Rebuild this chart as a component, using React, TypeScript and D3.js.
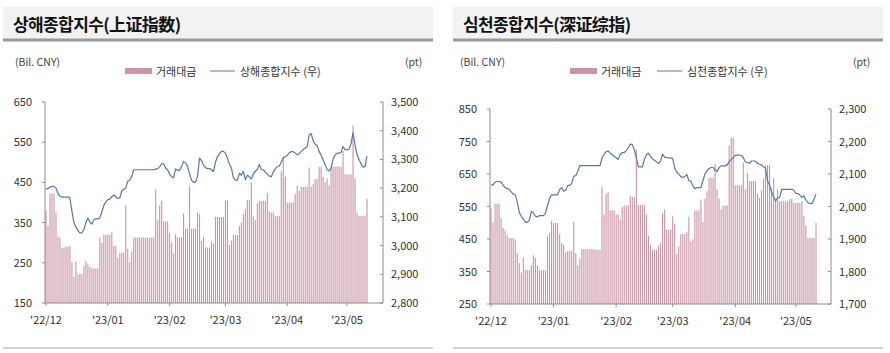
import React from 'react';
import * as d3 from 'd3';

// calendar days from 2022-12-01, weekends/holidays carried forward
const startDate = new Date(2022, 11, 1);

const shBars = [
  380, 343, 423, 423, 423, 375, 316, 312, 287, 288,
  290, 290, 292, 252, 215, 254, 222, 222, 222, 242,
  254, 248, 240, 237, 236, 236, 236, 312, 300, 320,
  320, 320, 320, 326, 292, 292, 262, 275, 275, 275,
  393, 285, 252, 278, 313, 313, 313, 313, 313, 313,
  313, 313, 313, 313, 313, 433, 356, 392, 404, 353,
  353, 353, 325, 301, 274, 321, 313, 313, 313, 373,
  335, 335, 440, 335, 335, 335, 375, 371, 304, 315,
  288, 288, 288, 303, 298, 364, 364, 364, 364, 364,
  405, 405, 294, 305, 319, 319, 319, 342, 351, 371,
  385, 406, 406, 450, 365, 356, 398, 404, 404, 404,
  404, 424, 377, 375, 375, 366, 366, 366, 478, 514,
  464, 400, 400, 400, 400, 421, 441, 429, 439, 439,
  439, 439, 487, 439, 446, 458, 458, 489, 489, 464,
  450, 460, 443, 489, 489, 489, 489, 489, 489, 528,
  470, 470, 470, 470, 591, 460, 375, 367, 367, 367,
  367, 409,
];

const shIndex = [
  3198, 3198, 3204, 3206, 3206, 3200, 3182, 3172, 3169, 3169,
  3169, 3169, 3166, 3120, 3080, 3065, 3052, 3044, 3044, 3055,
  3080, 3096, 3082, 3075, 3090, 3093, 3093, 3096, 3117, 3140,
  3152, 3160, 3162, 3170, 3176, 3170, 3164, 3166, 3190, 3196,
  3200, 3224, 3228, 3240, 3264, 3264, 3264, 3264, 3264, 3264,
  3264, 3264, 3264, 3264, 3264, 3266, 3268, 3274, 3285, 3285,
  3270, 3264, 3248, 3240, 3236, 3267, 3262, 3262, 3275, 3293,
  3288, 3276, 3250, 3228, 3220, 3220, 3240, 3305, 3296, 3280,
  3272, 3268, 3268, 3265, 3258, 3290, 3310, 3320, 3328, 3328,
  3322, 3305, 3283, 3270, 3236, 3228, 3228, 3252, 3245, 3258,
  3230, 3245, 3240, 3232, 3250, 3258, 3266, 3283, 3265, 3264,
  3256, 3249, 3242, 3240, 3256, 3268, 3275, 3277, 3290, 3305,
  3310, 3314, 3323, 3327, 3327, 3322, 3316, 3320, 3328, 3334,
  3340, 3345, 3385, 3390, 3365, 3353, 3348, 3328, 3315, 3298,
  3282, 3265, 3260, 3270, 3302, 3315, 3322, 3322, 3325, 3345,
  3334, 3334, 3336, 3355, 3393, 3350, 3318, 3300, 3285, 3274,
  3274, 3312,
];

const szBars = [
  545, 501, 559, 559, 559, 514, 484, 476, 461, 453,
  453, 453, 448, 407, 376, 347, 392, 355, 355, 355,
  369, 400, 392, 369, 354, 354, 354, 354, 458, 468,
  506, 499, 499, 499, 465, 438, 432, 409, 414, 414,
  414, 502, 407, 369, 388, 419, 419, 419, 419, 419,
  419, 419, 417, 417, 417, 610, 525, 589, 594, 538,
  538, 538, 525, 525, 510, 548, 553, 553, 553, 582,
  579, 579, 725, 555, 555, 555, 555, 525, 460, 432,
  417, 417, 417, 430, 438, 530, 541, 479, 479, 479,
  520, 497, 404, 427, 465, 465, 465, 471, 518, 443,
  450, 538, 538, 538, 572, 502, 574, 597, 639, 639,
  639, 682, 603, 574, 541, 553, 553, 553, 737, 762,
  762, 615, 615, 615, 615, 685, 603, 652, 628, 628,
  628, 628, 590, 577, 600, 636, 678, 678, 678, 605,
  636, 572, 605, 566, 566, 566, 566, 566, 572, 574,
  561, 561, 561, 561, 566, 522, 491, 453, 453, 453,
  453, 500,
];

const szIndex = [
  2067, 2066, 2075, 2077, 2077, 2075, 2066, 2058, 2055, 2053,
  2045, 2038, 2036, 2015, 1982, 1970, 1962, 1951, 1951, 1958,
  1985, 1980, 1970, 1968, 1972, 1972, 1972, 1980, 2003, 2025,
  2036, 2036, 2036, 2036, 2052, 2058, 2047, 2050, 2065, 2065,
  2072, 2093, 2095, 2108, 2126, 2126, 2126, 2126, 2126, 2126,
  2126, 2126, 2126, 2126, 2126, 2150, 2160, 2168, 2171, 2164,
  2160, 2154, 2150, 2145, 2160, 2166, 2166, 2172, 2180, 2192,
  2191, 2175, 2150, 2122, 2122, 2122, 2145, 2160, 2164, 2155,
  2147, 2142, 2138, 2132, 2140, 2161, 2152, 2150, 2150, 2149,
  2148, 2118, 2106, 2100, 2092, 2089, 2092, 2099, 2080, 2078,
  2063, 2055, 2058, 2058, 2058, 2080, 2100, 2110, 2116, 2120,
  2120, 2112, 2108, 2120, 2125, 2125, 2125, 2128, 2138, 2145,
  2150, 2158, 2158, 2158, 2157, 2150, 2137, 2136, 2133, 2140,
  2140, 2140, 2133, 2130, 2128, 2122, 2118, 2078, 2066, 2045,
  2030, 2017, 2027, 2027, 2053, 2053, 2053, 2053, 2053, 2053,
  2050, 2040, 2040, 2035, 2028, 2033, 2020, 2012, 2009, 2009,
  2022, 2038,
];

const shLeftTicks = [150, 250, 350, 450, 550, 650];
const shRightTicks = [2800, 2900, 3000, 3100, 3200, 3300, 3400, 3500];
const szLeftTicks = [250, 350, 450, 550, 650, 750, 850];
const szRightTicks = [1700, 1800, 1900, 2000, 2100, 2200, 2300];

const barLegend = '거래대금';
const unitLeft = '(Bil. CNY)';
const unitRight = '(pt)';

const FONT = "'Noto Sans CJK KR', 'Noto Sans', sans-serif";
const BAR = '#cc94a5';
const LINE = '#5a76a6';
const AXIS = '#8c8c8c';
const TEXT = '#333';

const monthTicks = d3.timeMonth.range(startDate, new Date(2023, 4, 12));
const fmtMonth = d3.timeFormat("'%y/%m");

const Panel = ({ ox, title, lineLabel, bars, index, leftTicks, rightTicks, plot, legend }) => {
  const n = bars.length;
  const x = d3.scaleLinear().domain([0, n - 1]).range([plot.x0 + 1, plot.barEnd]);
  const yL = d3.scaleLinear().domain(d3.extent(leftTicks)).range([plot.yBot, plot.yTop]);
  const yR = d3.scaleLinear().domain(d3.extent(rightTicks)).range([plot.yBot, plot.yTop]);
  const line = d3.line<number>().x((_, i) => x(i)).y(v => yR(v));
  const fmt = d3.format(',');

  return (
    <g>
      {/* title bar */}
      <rect x={ox} y={7} width={430} height={32} fill="#f2f2f2" />
      <line x1={ox} x2={ox + 430} y1={40} y2={40} stroke="#999" strokeWidth={3} />
      <text x={ox + 10} y={31} fontSize={17} fontWeight={700} letterSpacing={-0.6} fill="#111" fontFamily={FONT}>{title}</text>

      {/* units + legend */}
      <text x={plot.x0 - 30} y={66} fontSize={10.5} fill="#444" fontFamily={FONT}>{unitLeft}</text>
      <text x={plot.x1 + 22} y={66} fontSize={10.5} fill="#444" fontFamily={FONT}>{unitRight}</text>
      <rect x={legend.sw} y={68} width={27} height={6} fill={BAR} />
      <text x={legend.sw + 31} y={75.5} fontSize={11} fill={TEXT} fontFamily={FONT}>{barLegend}</text>
      <line x1={legend.ln} x2={legend.ln + 25} y1={71} y2={71} stroke={LINE} strokeWidth={1} />
      <text x={legend.ln + 30} y={75.5} fontSize={11} fill={TEXT} fontFamily={FONT}>{lineLabel}</text>

      {/* bars */}
      {bars.map((v, i) => (
        <rect key={i} x={x(i) - 0.55} y={yL(v)} width={1.1} height={plot.yBot - yL(v)} fill={BAR} />
      ))}

      <path d={line(index) || ''} fill="none" stroke={LINE} strokeWidth={1.2} strokeLinejoin="round" />

      {/* axes */}
      <line x1={plot.x0} x2={plot.x0} y1={plot.yTop} y2={plot.yBot} stroke={AXIS} />
      <line x1={plot.x1} x2={plot.x1} y1={plot.yTop} y2={plot.yBot} stroke={AXIS} />
      <line x1={plot.x0} x2={plot.x1} y1={plot.yBot} y2={plot.yBot} stroke={AXIS} />
      {leftTicks.map(t => (
        <g key={'l' + t}>
          <line x1={plot.x0 - 3} x2={plot.x0} y1={yL(t)} y2={yL(t)} stroke={AXIS} />
          <text x={plot.x0 - 13} y={yL(t) + 4} textAnchor="end" fontSize={11} fill={TEXT} fontFamily={FONT}>{t}</text>
        </g>
      ))}
      {rightTicks.map(t => (
        <g key={'r' + t}>
          <line x1={plot.x1 - 3} x2={plot.x1} y1={yR(t)} y2={yR(t)} stroke={AXIS} />
          <text x={plot.x1 + 8} y={yR(t) + 4} fontSize={11} fill={TEXT} fontFamily={FONT}>{fmt(t)}</text>
        </g>
      ))}
      {monthTicks.map(d => {
        const xi = x(d3.timeDay.count(startDate, d));
        return (
          <g key={+d}>
            <line x1={xi} x2={xi} y1={plot.yBot} y2={plot.yBot + 3} stroke={AXIS} />
            <text x={xi} y={plot.yBot + 21} textAnchor="middle" fontSize={11} fill={TEXT} fontFamily={FONT}>{fmtMonth(d)}</text>
          </g>
        );
      })}

      <line x1={ox} x2={ox + 430} y1={348} y2={348} stroke="#d4d4d4" strokeWidth={2} />
    </g>
  );
};

export default function App() {
  return (
    <svg width={890} height={353} style={{ position: 'absolute', left: 0, top: 0, background: '#fff' }}>
      <Panel
        ox={3}
        title="상해종합지수(上证指数)"
        lineLabel="상해종합지수 (우)"
        bars={shBars}
        index={shIndex}
        leftTicks={shLeftTicks}
        rightTicks={shRightTicks}
        plot={{ x0: 45, x1: 383, barEnd: 367, yTop: 102, yBot: 303 }}
        legend={{ sw: 125, ln: 210 }}
      />
      <Panel
        ox={453}
        title="심천종합지수(深证综指)"
        lineLabel="심천종합지수 (우)"
        bars={szBars}
        index={szIndex}
        leftTicks={szLeftTicks}
        rightTicks={szRightTicks}
        plot={{ x0: 490, x1: 831, barEnd: 816, yTop: 109, yBot: 304 }}
        legend={{ sw: 570, ln: 657 }}
      />
    </svg>
  );
}
